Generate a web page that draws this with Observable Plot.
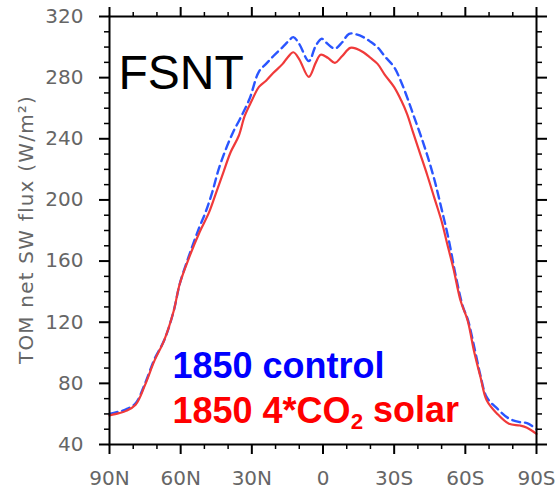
<!DOCTYPE html>
<html><head><meta charset="utf-8">
<script src="https://cdn.jsdelivr.net/npm/d3@7"></script>
<script src="https://cdn.jsdelivr.net/npm/@observablehq/plot@0.6"></script>
<style>body{margin:0;background:#fff;}</style>
</head><body><div id="chart"></div>
<script>
// Latitude (degrees, N positive) and TOM net SW flux (W/m^2)
const latSolar = [90,86,83,79,75,71,67,63,60.4,56,52,48,45,42,39,35.5,33,30,27,24,21,17,15,12.5,10,6,3,1,-2,-5,-8,-11.5,-14,-17,-20,-23,-26,-30,-33,-35.5,-38,-41,-44,-47,-50,-52.4,-55,-58,-61,-63.6,-66.4,-69,-73.5,-78.4,-83,-86,-90];
const fluxSolar = [59,60.5,62,66,79,95,108,127,145,164,179,192,205,218,231,242,255,265,274,278,283,289,293,296.6,292,280.5,290,295,293,289.7,294,299.5,299,296.6,293,289,282,273.8,265,256,244,230,216,201,186,171,155,134,121,101.5,84,69,60,53.5,52.4,51,47];
const latControl = [90,86,83,79,75,71,67,63,60.4,56.6,52.4,49.5,46.7,44,41,38,35,31,27,24,21,17,14.5,12.5,10,6,3,0.5,-2,-5,-8,-11,-14,-17,-20,-23,-26,-30,-33,-35.5,-38,-41,-44,-47,-50,-53,-56,-59,-61,-64,-66.4,-69,-73.5,-78.4,-83,-86,-90];
const fluxControl = [60,61.5,63,67,80,96,108,127,145,163,181,192,205,220,233,244,253,266,284,289,294,300,304,306.5,302,290.8,301,305.4,302,299,303,308.7,308.3,306.5,303.5,299.9,294,286.8,277,267,256,243,229,213,194,174,150,130,122,102,85,71,63.4,57,54.6,54,50];

const seriesNames = ["1850 control", "1850 4*CO₂ solar"];
const seriesColors = ["#0000ff", "#ff0000"];
const title = "FSNT";
const yLabel = "TOM net SW flux (W/m²)";

const latTicks = [90,60,30,0,-30,-60,-90];
const latTickLabels = ["90N","60N","30N","0","30S","60S","90S"];
const latMinor = [80,70,50,40,20,10,-10,-20,-40,-50,-70,-80];
const fluxTicks = [40,80,120,160,200,240,280,320];
const fluxMinor = [50,60,70,90,100,110,130,140,150,170,180,190,210,220,230,250,260,270,290,300,310];

const solar = latSolar.map((lat, i) => ({lat, flux: fluxSolar[i]}));
const control = latControl.map((lat, i) => ({lat, flux: fluxControl[i]}));

const tickStyle = {stroke: "black", strokeWidth: 2, fontSize: 20, fill: "#666"};

const plot = Plot.plot({
  width: 555, height: 491,
  marginTop: 16, marginRight: 19, marginBottom: 47, marginLeft: 109,
  style: {fontFamily: "DejaVu Sans", background: "white"},
  x: {domain: [90, -90]},
  y: {domain: [40, 320]},
  marks: [
    Plot.line(control, {x: "lat", y: "flux", stroke: "#2a55ff", strokeWidth: 2.4, strokeDasharray: "8,5", curve: "catmull-rom"}),
    Plot.line(solar, {x: "lat", y: "flux", stroke: "#f03a3a", strokeWidth: 2.2, curve: "catmull-rom"}),
    Plot.frame({stroke: "black", strokeWidth: 2}),
    // bottom
    Plot.axisX(latTicks, {anchor: "bottom", tickSize: 10, tickPadding: 16, tickFormat: d => latTickLabels[latTicks.indexOf(d)], label: null, ...tickStyle}),
    Plot.axisX(latMinor, {anchor: "bottom", tickSize: 5, stroke: "black", strokeWidth: 1.5, fill: "none", label: null}),
    // top
    Plot.axisX(latTicks, {anchor: "top", tickSize: 10, stroke: "black", strokeWidth: 2, fill: "none", label: null}),
    Plot.axisX(latMinor, {anchor: "top", tickSize: 5, stroke: "black", strokeWidth: 1.5, fill: "none", label: null}),
    // left
    Plot.axisY(fluxTicks, {anchor: "left", tickSize: 10, tickPadding: 16, label: null, ...tickStyle}),
    Plot.axisY(fluxMinor, {anchor: "left", tickSize: 5, stroke: "black", strokeWidth: 1.5, fill: "none", label: null}),
    // right
    Plot.axisY(fluxTicks, {anchor: "right", tickSize: 10, stroke: "black", strokeWidth: 2, fill: "none", label: null}),
    Plot.axisY(fluxMinor, {anchor: "right", tickSize: 5, stroke: "black", strokeWidth: 1.5, fill: "none", label: null}),
    // y-axis title
    Plot.text([yLabel], {text: d => d, frameAnchor: "left", dx: -91, dy: -1, rotate: -90, lineAnchor: "top", textAnchor: "middle", fontSize: 20, fill: "#666"}),
    Plot.text([title], {text: d => d, frameAnchor: "top-left", dx: 9, dy: 72, lineAnchor: "bottom", textAnchor: "start", fontSize: 48, fontFamily: "Liberation Sans", fill: "black"}),
    Plot.text([seriesNames[0]], {text: d => d, frameAnchor: "top-left", dx: 63, dy: 361, lineAnchor: "bottom", textAnchor: "start", fontSize: 36, fontWeight: "bold", fontFamily: "Liberation Sans", fill: seriesColors[0]}),
    Plot.text([seriesNames[1]], {text: d => d, frameAnchor: "top-left", dx: 63, dy: 406, lineAnchor: "bottom", textAnchor: "start", fontSize: 36, fontWeight: "bold", fontFamily: "Liberation Sans", fill: seriesColors[1]})
  ]
});

// slightly spaced y-axis title, as in the original
d3.select(plot).selectAll("text").filter(function() { return this.childElementCount === 0 && this.textContent === yLabel; })
  .style("letter-spacing", "1.2px");

// render the CO₂ subscript as a real subscript
d3.select(plot).selectAll("text").filter(function() { return this.childElementCount === 0 && this.textContent.includes("₂"); }).each(function() {
  const parts = this.textContent.split("₂");
  const t = d3.select(this);
  t.text(null);
  t.append("tspan").text(parts[0]);
  t.append("tspan").attr("font-size", "0.62em").attr("dy", "0.3em").text("2");
  t.append("tspan").attr("dy", "-0.19em").text(parts[1]);
});

document.getElementById("chart").appendChild(plot);
</script>
</body></html>
